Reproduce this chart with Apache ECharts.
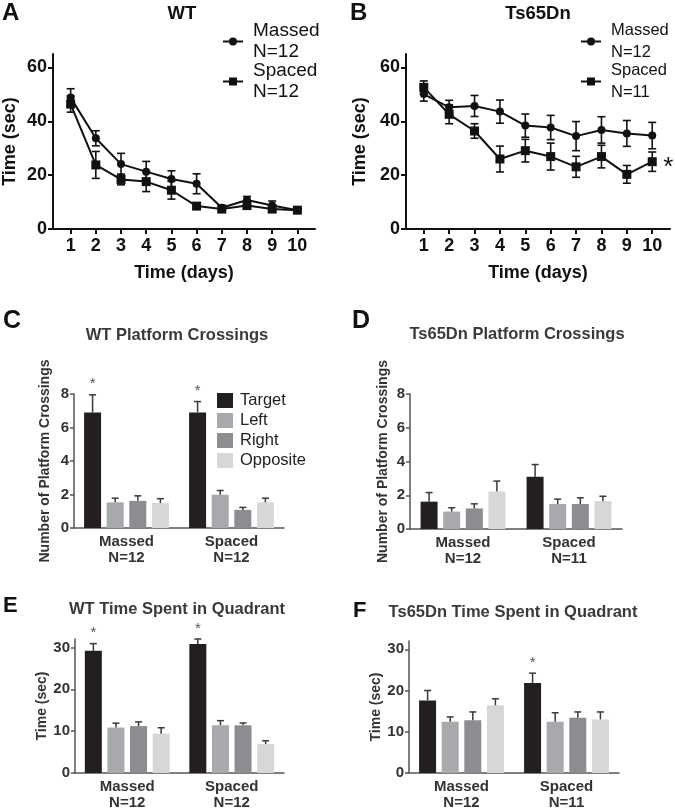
<!DOCTYPE html>
<html>
<head>
<meta charset="utf-8">
<script src="https://cdn.jsdelivr.net/npm/echarts@6/dist/echarts.min.js"></script>
<style>
html,body{margin:0;padding:0;background:#fff;}
#c{width:675px;height:811px;}
</style>
</head>
<body>
<div id="c"></div>
<script>
// ---------- data ----------
var days = [1, 2, 3, 4, 5, 6, 7, 8, 9, 10];
var wtMassedMean = [48.8, 33.7, 24.1, 21.3, 18.6, 16.8, 7.9, 10.8, 8.7, 7.0];
var wtMassedSem  = [3.3, 2.8, 4.0, 3.8, 3.0, 3.7, 0.8, 1.3, 1.7, 0.6];
var wtSpacedMean = [46.4, 23.8, 18.4, 17.6, 14.4, 8.5, 7.4, 8.7, 7.4, 7.0];
var wtSpacedSem  = [3.0, 5.0, 2.0, 3.7, 3.3, 0.8, 0.6, 1.0, 0.8, 0.5];
var tsMassedMean = [50.1, 45.2, 45.7, 43.6, 38.4, 37.7, 34.5, 36.8, 35.5, 34.7];
var tsMassedSem  = [2.6, 2.6, 3.9, 4.3, 4.3, 4.5, 5.4, 4.9, 4.8, 4.9];
var tsSpacedMean = [52.6, 42.6, 36.4, 26.0, 29.1, 26.9, 23.1, 26.9, 20.3, 25.0];
var tsSpacedSem  = [2.4, 3.5, 2.7, 4.8, 4.2, 5.0, 3.9, 4.2, 3.3, 3.6];
var legendWT = ['Massed\nN=12', 'Spaced\nN=12'];
var legendTS = ['Massed\nN=12', 'Spaced\nN=11'];

var quadrants = ['Target', 'Left', 'Right', 'Opposite'];
var groupsWT = ['Massed\nN=12', 'Spaced\nN=12'];
var groupsTS = ['Massed\nN=12', 'Spaced\nN=11'];
// [quadrant][group: Massed, Spaced]
var wtCrossMean = [[6.9, 6.9], [1.53, 1.99], [1.62, 1.08], [1.49, 1.53]];
var wtCrossErr  = [[1.05, 0.65], [0.25, 0.25], [0.3, 0.15], [0.26, 0.25]];
var wtCrossSig  = [true, true];
var tsCrossMean = [[1.62, 3.1], [1.03, 1.48], [1.22, 1.48], [2.22, 1.65]];
var tsCrossErr  = [[0.54, 0.72], [0.23, 0.29], [0.27, 0.37], [0.62, 0.29]];
var tsCrossSig  = [false, false];
var wtTimeMean  = [[29.2, 30.8], [10.85, 11.4], [11.2, 11.4], [9.4, 6.9]];
var wtTimeErr   = [[1.7, 1.2], [1.05, 1.1], [1.0, 0.55], [1.4, 0.8]];
var wtTimeSig   = [true, true];
var tsTimeMean  = [[17.6, 21.8], [12.4, 12.4], [12.8, 13.4], [16.4, 13.0]];
var tsTimeErr   = [[2.4, 2.4], [1.2, 2.2], [2.0, 1.4], [1.6, 1.8]];
var tsTimeSig   = [false, true];
var quadColors = ['#231f20', '#a7a9ac', '#8c8d90', '#d6d7d9'];

// ---------- styles ----------
var FONT = 'Liberation Sans, Arial, sans-serif';
var BAR_W = 17, BAR_GAP = 0.33;
var BAR_PITCH = BAR_W * (1 + BAR_GAP);

var chart = echarts.init(document.getElementById('c'), null, {renderer: 'canvas'});

function lineErrRender(params, api) {
  var x = api.value(0), y = api.value(1), e = api.value(2);
  var t = api.coord([x, y + e]), b = api.coord([x, y - e]);
  var st = {stroke: '#111', lineWidth: 1.6};
  return {type: 'group', children: [
    {type: 'line', shape: {x1: t[0], y1: t[1], x2: b[0], y2: b[1]}, style: st},
    {type: 'line', shape: {x1: t[0] - 4, y1: t[1], x2: t[0] + 4, y2: t[1]}, style: st},
    {type: 'line', shape: {x1: b[0] - 4, y1: b[1], x2: b[0] + 4, y2: b[1]}, style: st}
  ]};
}
function barErrRender(params, api) {
  var c = api.value(0), m = api.value(1), e = api.value(2), q = api.value(3), s = api.value(4);
  var base = api.coord([c, m]), top = api.coord([c, m + e]);
  var x = base[0] + (q - 1.5) * BAR_PITCH;
  var st = {stroke: '#3a3a3a', lineWidth: 1.5};
  var ch = [
    {type: 'line', shape: {x1: x, y1: base[1], x2: x, y2: top[1]}, style: st},
    {type: 'line', shape: {x1: x - 3.5, y1: top[1], x2: x + 3.5, y2: top[1]}, style: st}
  ];
  if (s) ch.push({type: 'text', style: {text: '*', x: x, y: top[1] - 3, align: 'center', verticalAlign: 'bottom', fontSize: 15, fontFamily: FONT, fill: '#555'}});
  return {type: 'group', children: ch};
}
function lineErrData(means, sems) {
  return days.map(function (d, i) { return [d, means[i], sems[i]]; });
}
function barErrData(means, errs, sig) {
  var out = [];
  for (var q = 0; q < 4; q++) for (var g = 0; g < 2; g++)
    out.push([g, means[q][g], errs[q][g], q, (q === 0 && sig[g]) ? 1 : 0]);
  return out;
}

var grids = [
  {left: 51, top: 54, width: 264, height: 175},
  {left: 406, top: 54, width: 264, height: 175},
  {left: 74, top: 394, width: 210, height: 134},
  {left: 410, top: 394, width: 212, height: 135},
  {left: 75, top: 639, width: 209, height: 135},
  {left: 409, top: 641, width: 210, height: 134}
];

var lineX = function (gi) {
  return {gridIndex: gi, type: 'value', min: 0.3, max: 10.7,
    name: 'Time (days)', nameLocation: 'middle', nameGap: 35,
    nameTextStyle: {fontFamily: FONT, fontSize: 18, fontWeight: 'bold', color: '#111'},
    axisLine: {lineStyle: {color: '#111', width: 2}},
    axisTick: {customValues: days, length: 5, lineStyle: {color: '#111', width: 2}},
    axisLabel: {customValues: days, margin: 8, fontFamily: FONT, fontSize: 18, fontWeight: 'bold', color: '#111'},
    splitLine: {show: false}};
};
var lineY = function (gi, gap) {
  return {gridIndex: gi, type: 'value', min: 0, max: 65,
    name: 'Time (sec)', nameLocation: 'middle', nameGap: gap,
    nameTextStyle: {fontFamily: FONT, fontSize: 18, fontWeight: 'bold', color: '#111'},
    axisLine: {show: true, lineStyle: {color: '#111', width: 2}},
    axisTick: {show: true, customValues: [0, 20, 40, 60], length: 5, lineStyle: {color: '#111', width: 2}},
    axisLabel: {customValues: [0, 20, 40, 60], margin: 6, fontFamily: FONT, fontSize: 18, fontWeight: 'bold', color: '#111'},
    splitLine: {show: false}};
};
var barX = function (gi, cats) {
  return {gridIndex: gi, type: 'category', data: cats,
    axisLine: {lineStyle: {color: '#555', width: 1.5}},
    axisTick: {alignWithLabel: true, length: 5, lineStyle: {color: '#555', width: 1.5}},
    axisLabel: {margin: 6, fontFamily: FONT, fontSize: 15, fontWeight: 'bold', color: '#333', lineHeight: 16}};
};
var barY = function (gi, max, ticks, name, gap) {
  return {gridIndex: gi, type: 'value', min: 0, max: max,
    name: name, nameLocation: 'middle', nameGap: gap,
    nameTextStyle: {fontFamily: FONT, fontSize: 14, fontWeight: 'bold', color: '#333'},
    axisLine: {show: true, lineStyle: {color: '#555', width: 1.5}},
    axisTick: {show: true, customValues: ticks, length: 4, lineStyle: {color: '#555', width: 1.5}},
    axisLabel: {customValues: ticks, margin: 5, fontFamily: FONT, fontSize: 15, fontWeight: 'bold', color: '#333'},
    splitLine: {show: false}};
};

var series = [];
function addLine(name, gi, means, sems, symbol) {
  series.push({type: 'custom', xAxisIndex: gi, yAxisIndex: gi, renderItem: lineErrRender,
    data: lineErrData(means, sems), z: 2, silent: true});
  series.push({type: 'line', name: name, xAxisIndex: gi, yAxisIndex: gi,
    data: days.map(function (d, i) { return [d, means[i]]; }),
    symbol: symbol, symbolSize: symbol === 'circle' ? 8 : 9,
    lineStyle: {color: '#111', width: 2}, itemStyle: {color: '#111'}, z: 3, animation: false});
}
addLine('WT Massed', 0, wtMassedMean, wtMassedSem, 'circle');
addLine('WT Spaced', 0, wtSpacedMean, wtSpacedSem, 'rect');
addLine('TS Massed', 1, tsMassedMean, tsMassedSem, 'circle');
addLine('TS Spaced', 1, tsSpacedMean, tsSpacedSem, 'rect');
// significance asterisk next to last Ts65Dn spaced point
series.push({type: 'custom', xAxisIndex: 1, yAxisIndex: 1, clip: false,
  data: [[days[9], tsSpacedMean[9]]],
  renderItem: function (params, api) {
    var p = api.coord([api.value(0), api.value(1)]);
    return {type: 'text', style: {text: '*', x: p[0] + 16, y: p[1] + 6, align: 'center', verticalAlign: 'middle',
      fontSize: 26, fontFamily: FONT, fill: '#111'}};
  }});

function addBars(gi, means, errs, sig) {
  for (var q = 0; q < 4; q++) {
    series.push({type: 'bar', name: quadrants[q], xAxisIndex: gi, yAxisIndex: gi,
      data: means[q], barWidth: BAR_W, barGap: (BAR_GAP * 100) + '%',
      itemStyle: {color: quadColors[q]}, animation: false});
  }
  series.push({type: 'custom', xAxisIndex: gi, yAxisIndex: gi, renderItem: barErrRender,
    data: barErrData(means, errs, sig), z: 5, silent: true});
}
addBars(2, wtCrossMean, wtCrossErr, wtCrossSig);
addBars(3, tsCrossMean, tsCrossErr, tsCrossSig);
addBars(4, wtTimeMean, wtTimeErr, wtTimeSig);
addBars(5, tsTimeMean, tsTimeErr, tsTimeSig);

var legendNames = {'WT Massed': legendWT[0], 'WT Spaced': legendWT[1], 'TS Massed': legendTS[0], 'TS Spaced': legendTS[1]};
function lineLegend(left, names, size) {
  return {left: left, top: 20, orient: 'vertical', padding: 0, itemGap: -3, itemWidth: 20, itemHeight: 10,
    data: names, selectedMode: false,
    formatter: function (n) { return legendNames[n]; },
    textStyle: {fontFamily: FONT, fontSize: size, color: '#111', lineHeight: 21.5, padding: [0, 0, 0, 5]}};
}

function T(text, left, top, size, color, align) {
  return {text: text, left: left, top: top, padding: 0, textAlign: align || 'left',
    textStyle: {fontFamily: FONT, fontWeight: 'bold', fontSize: size, color: color || '#111'}};
}

chart.setOption({
  animation: false,
  backgroundColor: '#fff',
  title: [
    T('A', 2, 1, 24), T('B', 350, 1, 24),
    T('WT', 182, 4, 18.5, '#111', 'center'), T('Ts65Dn', 538, 4, 18.5, '#111', 'center'),
    T('C', 3, 309, 25), T('D', 352, 309, 25),
    T('WT Platform Crossings', 177, 327, 16.5, '#3a3a3a', 'center'),
    T('Ts65Dn Platform Crossings', 517, 326, 16.5, '#3a3a3a', 'center'),
    T('E', 3, 595, 22), T('F', 353, 600, 22),
    T('WT Time Spent in Quadrant', 177, 601, 16.5, '#3a3a3a', 'center'),
    T('Ts65Dn Time Spent in Quadrant', 513, 604, 16.5, '#3a3a3a', 'center')
  ],
  legend: [
    lineLegend(222, ['WT Massed', 'WT Spaced'], 19),
    lineLegend(580, ['TS Massed', 'TS Spaced'], 16.5),
    {left: 217, top: 392, orient: 'vertical', padding: 0, itemGap: 3, itemWidth: 16, itemHeight: 15,
      icon: 'rect', data: quadrants, selectedMode: false,
      textStyle: {fontFamily: FONT, fontSize: 16.5, color: '#222', padding: [0, 0, 0, 2]}}
  ],
  grid: grids,
  xAxis: [lineX(0), lineX(1), barX(2, groupsWT), barX(3, groupsTS), barX(4, groupsWT), barX(5, groupsTS)],
  yAxis: [
    lineY(0, 34), lineY(1, 37),
    barY(2, 8, [0, 2, 4, 6, 8], 'Number of Platform Crossings', 22),
    barY(3, 8, [0, 2, 4, 6, 8], 'Number of Platform Crossings', 20),
    barY(4, 32, [0, 10, 20, 30], 'Time (sec)', 24),
    barY(5, 32, [0, 10, 20, 30], 'Time (sec)', 22)
  ],
  series: series
});
</script>
</body>
</html>
